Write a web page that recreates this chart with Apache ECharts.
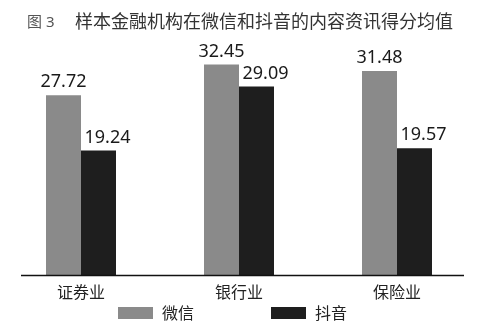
<!DOCTYPE html>
<html><head><meta charset="utf-8">
<script src="https://cdn.jsdelivr.net/npm/echarts@6/dist/echarts.min.js"></script>
<style>html,body{margin:0;padding:0;background:#fff}#c{width:491px;height:332px}</style>
</head><body><div id="c"></div>
<script>
var categories = ['证券业', '银行业', '保险业'];
var weixin = [27.72, 32.45, 31.48];
var douyin = [19.24, 29.09, 19.57];
var seriesNames = ['微信', '抖音'];

var FONT = '"Noto Sans", "Noto Sans CJK SC", sans-serif';
var chart = echarts.init(document.getElementById('c'));
chart.setOption({
  backgroundColor: '#ffffff',
  animation: false,
  title: [
    {text: '图 3', left: 22, top: 10, textStyle: {fontFamily: FONT, fontSize: 15, fontWeight: 'normal', color: '#555'}},
    {text: '样本金融机构在微信和抖音的内容资讯得分均值', left: 70, top: 7, textStyle: {fontFamily: '"Noto Sans CJK SC", sans-serif', fontSize: 18, fontWeight: 'normal', color: '#333'}}
  ],
  legend: {
    data: seriesNames,
    left: 118, top: 305, padding: 0,
    itemWidth: 35, itemHeight: 12, itemGap: 77,
    icon: 'rect',
    textStyle: {fontFamily: '"Noto Sans CJK SC", sans-serif', fontSize: 16, color: '#222', padding: [0, 0, 0, 4]}
  },
  grid: {left: 2, right: 15, top: 48, bottom: 56.5, containLabel: false},
  xAxis: {
    type: 'category', data: categories,
    axisLine: {show: false}, axisTick: {show: false},
    axisLabel: {fontFamily: '"Noto Sans CJK SC", sans-serif', fontSize: 16, color: '#222', margin: 8}
  },
  yAxis: {type: 'value', min: 0, max: 35, show: false, splitLine: {show: false}},
  graphic: [{type: 'line', shape: {x1: 21, y1: 275.5, x2: 464, y2: 275.5}, style: {stroke: '#111', lineWidth: 1.5}, z: 100}],
  series: [
    {name: seriesNames[0], type: 'bar', data: weixin, barWidth: 35, barGap: '0%',
     itemStyle: {color: '#8a8a8a'},
     label: {show: true, position: 'top', distance: 4, fontFamily: FONT, fontSize: 18, color: '#1a1a1a', formatter: function(p){return p.value.toFixed(2);}}},
    {name: seriesNames[1], type: 'bar', data: douyin, barWidth: 35, barGap: '0%',
     itemStyle: {color: '#1e1e1e'},
     label: {show: true, position: 'top', distance: 4, offset: [9, 0], fontFamily: FONT, fontSize: 18, color: '#1a1a1a', formatter: function(p){return p.value.toFixed(2);}}}
  ]
});
</script></body></html>
